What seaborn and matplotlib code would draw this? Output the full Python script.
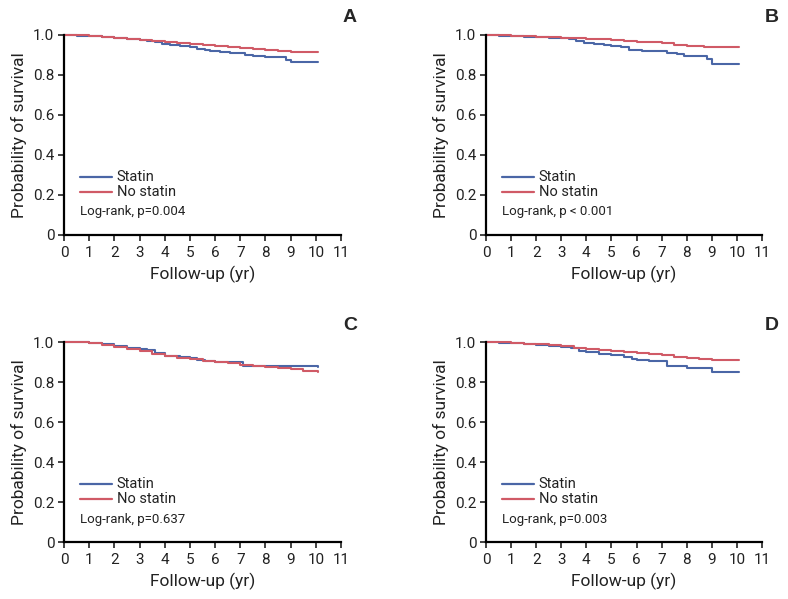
import numpy as np
import pandas as pd
import matplotlib
matplotlib.use("Agg")
import matplotlib.pyplot as plt
import seaborn as sns

sns.set_theme(style="ticks")
plt.rcParams['font.family'] = ['Roboto', 'DejaVu Sans']

# ---- data (Kaplan-Meier step estimates) ----
panels = ["A", "B", "C", "D"]
pvalues = ["Log-rank, p=0.004", "Log-rank, p < 0.001", "Log-rank, p=0.637", "Log-rank, p=0.003"]

a_statin_t = [0, 0.5, 1, 1.5, 2, 2.5, 3, 3.3, 3.6, 3.9, 4.2, 4.6, 5, 5.3, 5.6, 5.8, 6.2, 6.6, 7.0, 7.2, 7.5, 8.0, 8.5, 8.8, 9.0, 10.1]
a_statin_s = [1.0, 0.997, 0.994, 0.99, 0.986, 0.981, 0.976, 0.97, 0.963, 0.955, 0.95, 0.945, 0.938, 0.932, 0.927, 0.918, 0.915, 0.912, 0.908, 0.898, 0.895, 0.891, 0.888, 0.876, 0.864, 0.864]
a_nostat_t = [0, 0.5, 1, 1.5, 2, 2.5, 3, 3.5, 4, 4.5, 5, 5.5, 6, 6.5, 7, 7.5, 8, 8.5, 9, 9.5, 10.1]
a_nostat_s = [1.0, 0.998, 0.995, 0.991, 0.986, 0.981, 0.976, 0.971, 0.965, 0.96, 0.955, 0.95, 0.945, 0.94, 0.935, 0.93, 0.925, 0.921, 0.917, 0.915, 0.913]

b_statin_t = [0, 0.5, 1, 1.5, 2, 2.5, 3, 3.3, 3.6, 3.9, 4.3, 4.7, 5, 5.4, 5.7, 6.2, 6.6, 7.2, 7.6, 7.9, 8.5, 8.8, 9.0, 10.1]
b_statin_s = [1.0, 0.996, 0.994, 0.992, 0.99, 0.987, 0.984, 0.978, 0.97, 0.962, 0.956, 0.95, 0.943, 0.938, 0.925, 0.922, 0.918, 0.908, 0.904, 0.895, 0.893, 0.878, 0.857, 0.857]
b_nostat_t = [0, 0.5, 1, 1.5, 2, 2.5, 3, 3.5, 4, 4.5, 5, 5.5, 6, 6.5, 7, 7.5, 8, 8.7, 9.2, 10.1]
b_nostat_s = [1.0, 0.999, 0.997, 0.995, 0.992, 0.99, 0.987, 0.985, 0.981, 0.978, 0.975, 0.971, 0.967, 0.963, 0.961, 0.951, 0.947, 0.942, 0.941, 0.941]

c_statin_t = [0, 0.5, 1, 1.5, 2, 2.5, 3, 3.3, 3.6, 4.0, 4.3, 4.6, 5.0, 5.3, 5.6, 6.0, 6.5, 7.0, 7.1, 8.0, 9.0, 10.1]
c_statin_s = [1.0, 0.998, 0.996, 0.988, 0.978, 0.968, 0.963, 0.958, 0.945, 0.932, 0.928, 0.925, 0.922, 0.912, 0.905, 0.9, 0.9, 0.899, 0.879, 0.878, 0.878, 0.877]
c_nostat_t = [0, 0.5, 1, 1.5, 2, 2.5, 3, 3.5, 4, 4.5, 5, 5.5, 6, 6.5, 7, 7.5, 8, 8.5, 9, 9.5, 10.1]
c_nostat_s = [1.0, 0.998, 0.995, 0.987, 0.976, 0.964, 0.953, 0.942, 0.93, 0.921, 0.913, 0.905, 0.9, 0.894, 0.886, 0.881, 0.877, 0.872, 0.864, 0.855, 0.852]

d_statin_t = [0, 0.5, 1, 1.5, 2, 2.5, 3, 3.4, 3.7, 4.0, 4.5, 5.0, 5.5, 5.8, 6.0, 6.5, 7.0, 7.2, 7.8, 8.0, 9.0, 10.1]
d_statin_s = [1.0, 0.996, 0.993, 0.989, 0.985, 0.98, 0.975, 0.968, 0.955, 0.948, 0.942, 0.935, 0.927, 0.915, 0.91, 0.905, 0.903, 0.882, 0.88, 0.872, 0.852, 0.852]
d_nostat_t = [0, 0.5, 1, 1.5, 2, 2.5, 3, 3.5, 4, 4.5, 5, 5.5, 6, 6.5, 7, 7.5, 8, 8.5, 9, 9.5, 10.1]
d_nostat_s = [1.0, 0.998, 0.995, 0.992, 0.988, 0.983, 0.978, 0.972, 0.965, 0.959, 0.953, 0.949, 0.945, 0.942, 0.933, 0.927, 0.92, 0.914, 0.91, 0.909, 0.908]

groups = ["Statin", "No statin"]
curves = {
    "A": [(a_statin_t, a_statin_s), (a_nostat_t, a_nostat_s)],
    "B": [(b_statin_t, b_statin_s), (b_nostat_t, b_nostat_s)],
    "C": [(c_statin_t, c_statin_s), (c_nostat_t, c_nostat_s)],
    "D": [(d_statin_t, d_statin_s), (d_nostat_t, d_nostat_s)],
}
xticks = list(range(0, 12))
yticks = [0, 0.2, 0.4, 0.6, 0.8, 1.0]
ytick_labels = ["0", "0.2", "0.4", "0.6", "0.8", "1.0"]

palette = {"Statin": "#4a66a6", "No statin": "#d05a66"}

W, H = 788, 599
fig = plt.figure(figsize=(W / 100, H / 100), dpi=100)

# axes pixel boxes: (left, top(y=1.0), right(x=11), bottom(y=0))
boxes = {
    "A": (64, 35, 341, 235),
    "B": (486, 35, 762, 235),
    "C": (64, 342, 341, 542),
    "D": (486, 342, 762, 542),
}
letter_pos = {"A": (350, 18), "B": (772, 18), "C": (350, 325), "D": (772, 325)}

for i, p in enumerate(panels):
    l, t, r, b = boxes[p]
    ax = fig.add_axes([l / W, 1 - b / H, (r - l) / W, (b - t) / H])
    rows = []
    for g, (tt, ss) in zip(groups, curves[p]):
        for x, y in zip(tt, ss):
            rows.append({"time": x, "surv": y, "group": g})
    df = pd.DataFrame(rows)
    sns.lineplot(data=df, x="time", y="surv", hue="group", hue_order=groups,
                 palette=palette, drawstyle="steps-post", linewidth=1.5,
                 estimator=None, sort=False, ax=ax, legend=False)
    ax.set_xlim(0, 11)
    ax.set_ylim(0, 1.0)
    ax.set_xticks(xticks)
    ax.set_xticklabels([str(v) for v in xticks], fontsize=11)
    ax.set_yticks(yticks)
    ax.set_yticklabels(ytick_labels, fontsize=11)
    ax.set_xlabel("Follow-up (yr)", fontsize=12.5, labelpad=4, color="#222222")
    ax.set_ylabel("Probability of survival", fontsize=12.5, labelpad=4, color="#222222")
    for s in ["top", "right"]:
        ax.spines[s].set_visible(False)
    for s in ["left", "bottom"]:
        ax.spines[s].set_linewidth(1.6)
        ax.spines[s].set_color("black")
        ax.spines[s].set_clip_on(False)
    ax.tick_params(direction="out", length=4, width=1.2, pad=3, colors="#222222")
    ax.tick_params(axis="x", pad=4)
    for line in ax.lines:
        line.set_clip_on(False)
    # legend
    for k, g in enumerate(groups):
        yy = [0.29, 0.215][k]
        ax.plot([0.63, 1.9], [yy, yy], color=palette[g], linewidth=1.6)
        ax.text(2.1, yy, g, fontsize=10.5, va="center", ha="left", color="#222222")
    ax.text(0.63, 0.115, pvalues[i], fontsize=9.5, va="center", ha="left", color="#222222")
    lx, ly = letter_pos[p]
    fig.text(lx / W, 1 - ly / H, p, fontsize=14, fontweight="bold",
             ha="center", va="center", family=["Liberation Sans", "DejaVu Sans"])

fig.savefig("out.png", dpi=100)
